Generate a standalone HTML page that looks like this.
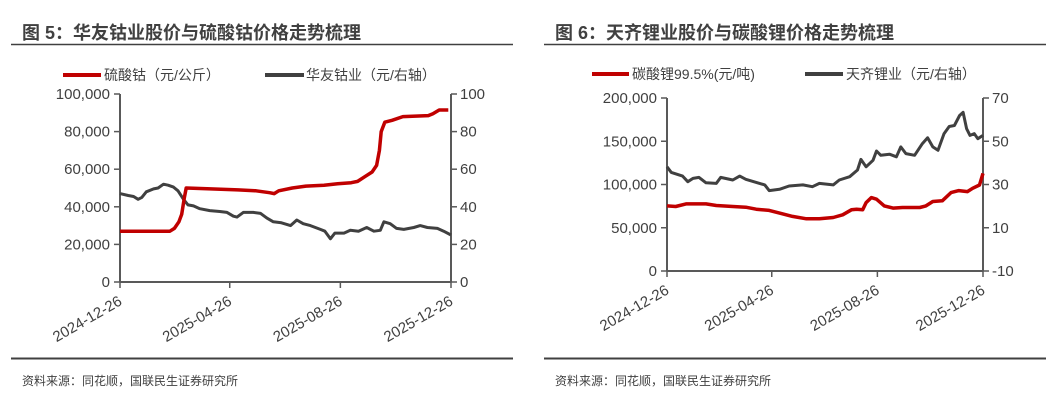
<!DOCTYPE html>
<html><head><meta charset="utf-8">
<style>
body{margin:0;background:#fff;}
svg{display:block;font-family:"Liberation Sans","Noto Sans CJK SC",sans-serif;}
.t{font-size:15px;fill:#404040;}
.lg{font-size:14px;fill:#404040;}
.ttl{font-size:18px;font-weight:bold;fill:#404040;}
.src{font-size:12px;fill:#404040;}
</style></head>
<body>
<svg id="c" width="1052" height="402" viewBox="0 0 1052 402">
<text class="ttl" x="22" y="39">图 5：华友钴业股价与硫酸钴价格走势梳理</text>
<line x1="11" y1="44.5" x2="513" y2="44.5" stroke="#404040" stroke-width="1.5"/>
<text class="ttl" x="555" y="39">图 6：天齐锂业股价与碳酸锂价格走势梳理</text>
<line x1="544" y1="44.5" x2="1046" y2="44.5" stroke="#404040" stroke-width="1.5"/>
<line x1="11" y1="358.5" x2="513" y2="358.5" stroke="#404040" stroke-width="2"/>
<line x1="544" y1="358.5" x2="1046" y2="358.5" stroke="#404040" stroke-width="2"/>
<text class="src" x="22" y="385">资料来源：同花顺，国联民生证券研究所</text>
<text class="src" x="555" y="385">资料来源：同花顺，国联民生证券研究所</text>
<g>
<line x1="63" y1="75" x2="101" y2="75" stroke="#c00000" stroke-width="4"/>
<text class="lg" x="104" y="80">硫酸钴（元/公斤）</text>
<line x1="265" y1="75" x2="304" y2="75" stroke="#404040" stroke-width="4"/>
<text class="lg" x="306" y="80">华友钴业（元/右轴）</text>
</g>
<g>
<line x1="592" y1="74" x2="629" y2="74" stroke="#c00000" stroke-width="4"/>
<text class="lg" x="632" y="79">碳酸锂99.5%(元/吨)</text>
<line x1="805" y1="74" x2="843" y2="74" stroke="#404040" stroke-width="4"/>
<text class="lg" x="846" y="79">天齐锂业（元/右轴）</text>
</g>
</svg>
<script>
const xTickLabels = ["2024-12-26","2025-04-26","2025-08-26","2025-12-26"];
const xTickDays = [0, 121, 243, 365];
// Left chart
const cobaltDays = [0,55,60,65,68,71,73,100,130,150,165,170,175,190,205,225,240,255,262,270,278,283,286,288,292,300,312,340,345,352,362];
const cobaltPrice = [27000,27000,28500,32000,36000,45000,50000,49500,49000,48500,47500,47000,48500,50000,51000,51500,52300,52800,53500,56000,58500,62000,70000,80000,85000,86000,88000,88500,89500,91500,91500];
const huayouDays = [0,9,15,20,24,29,37,42,48,53,59,64,70,75,81,88,99,110,118,125,129,136,147,155,162,169,178,188,195,202,210,221,226,232,237,247,254,263,272,280,287,291,298,305,313,324,331,339,350,357,365];
const huayouPrice = [47,46,45.5,44,45,48,49.5,50,52,51.5,50.5,48.5,44,41,40.5,39,38,37.5,37,35,34.5,37,37,36.5,34,32,31.5,30,33,31,30,28,27,23,26,26,27.5,27,29,27,27.5,32,31,28.5,28,29,30,29,28.5,27,25];
const leftTicks = [0,20000,40000,60000,80000,100000];
const leftRightTicks = [0,20,40,60,80,100];
// Right chart
const lithiumDays = [0,10,22,45,57,76,91,103,118,130,145,161,176,192,203,213,219,226,230,236,242,251,261,272,292,299,307,318,328,337,347,353,361,365];
const lithiumPrice = [75300,74600,77600,77600,75700,74600,73800,71500,70000,66900,63100,60400,60400,61900,65000,70700,71500,70700,79100,84900,83000,75300,72700,73400,73400,75300,80300,81100,90600,92900,91800,95600,99400,112800];
const tianqiDays = [0,5,18,24,30,37,45,57,62,76,84,91,107,113,118,130,141,157,168,176,192,199,211,220,224,230,238,242,247,257,265,270,276,286,295,301,307,313,320,326,332,338,342,346,350,355,359,365];
const tianqiPrice = [38.2,35.6,33.9,31.3,32.8,33.3,30.8,30.5,33.3,32.1,33.9,32.4,30.5,29.8,27.2,27.8,29.3,29.8,29.0,30.5,29.8,32.1,33.6,36.7,41.6,38.2,41.2,45.5,43.5,44.0,42.8,47.4,44.3,43.5,48.9,51.6,47.4,45.8,53.5,56.8,57.3,61.9,63.4,55.8,52.7,53.5,51.2,52.7];
const rLeftTicks = [0,50000,100000,150000,200000];
const rRightTicks = [-10,10,30,50,70];

const svg = document.getElementById('c');
const NS = 'http://www.w3.org/2000/svg';
function mk(tag, attrs){const e=document.createElementNS(NS,tag);for(const k in attrs)e.setAttribute(k,attrs[k]);svg.appendChild(e);return e;}
function fmt(v){return v.toLocaleString('en-US');}

function drawChart(cfg){
  const xs = d => cfg.x0 + d/365*(cfg.x1-cfg.x0);
  const yl = v => cfg.yb - (v-cfg.lmin)/(cfg.lmax-cfg.lmin)*(cfg.yb-cfg.yt);
  const yr = v => cfg.yb - (v-cfg.rmin)/(cfg.rmax-cfg.rmin)*(cfg.yb-cfg.yt);
  let a = mk('line',{x1:cfg.x0,y1:cfg.yt,x2:cfg.x0,y2:cfg.yb,stroke:'#595959','stroke-width':2});
  
  
  a = mk('line',{x1:cfg.x1,y1:cfg.yt,x2:cfg.x1,y2:cfg.yb,stroke:'#595959','stroke-width':2});
  
  
  a = mk('line',{x1:cfg.x0,y1:cfg.yb,x2:cfg.x1,y2:cfg.yb,stroke:'#595959','stroke-width':2});
  
  
  cfg.lt.forEach(v=>{
    const y=yl(v);
    const l=mk('line',{x1:cfg.x0-6,y1:y,x2:cfg.x0,y2:y,stroke:'#595959','stroke-width':1.5});
    
    
    const t=mk('text',{x:cfg.x0-10,y:y+5,'text-anchor':'end',class:'t'});t.textContent=fmt(v);
    
    
  });
  cfg.rt.forEach(v=>{
    const y=yr(v);
    const l=mk('line',{x1:cfg.x1,y1:y,x2:cfg.x1+6,y2:y,stroke:'#595959','stroke-width':1.5});
    
    
    const t=mk('text',{x:cfg.x1+9,y:y+5,'text-anchor':'start',class:'t'});t.textContent=String(v);
    
    
  });
  xTickDays.forEach((d,i)=>{
    const x=xs(d);
    const l=mk('line',{x1:x,y1:cfg.yb,x2:x,y2:cfg.yb+6,stroke:'#595959','stroke-width':1.5});
    
    
    const t=mk('text',{x:x+3,y:cfg.yb+22,'text-anchor':'end',class:'t',transform:`rotate(-30 ${x+3} ${cfg.yb+22})`});
    t.textContent=xTickLabels[i];
    
    
  });
  const p1 = mk('polyline',{points:cfg.gd.map((d,i)=>xs(d).toFixed(1)+','+yr(cfg.gv[i]).toFixed(1)).join(' '),fill:'none',stroke:'#404040','stroke-width':3,'stroke-linejoin':'round'});
  
  
  const p2 = mk('polyline',{points:cfg.rd.map((d,i)=>xs(d).toFixed(1)+','+yl(cfg.rv[i]).toFixed(1)).join(' '),fill:'none',stroke:'#c00000','stroke-width':3.5,'stroke-linejoin':'round'});
  
  
}
drawChart({p:'left',x0:120,x1:451,yt:94,yb:282,lmin:0,lmax:100000,rmin:0,rmax:100,lt:leftTicks,rt:leftRightTicks,rd:cobaltDays,rv:cobaltPrice,gd:huayouDays,gv:huayouPrice});
drawChart({p:'right',x0:667,x1:983,yt:98,yb:271,lmin:0,lmax:200000,rmin:-10,rmax:70,lt:rLeftTicks,rt:rRightTicks,rd:lithiumDays,rv:lithiumPrice,gd:tianqiDays,gv:tianqiPrice});
</script>
</body></html>
